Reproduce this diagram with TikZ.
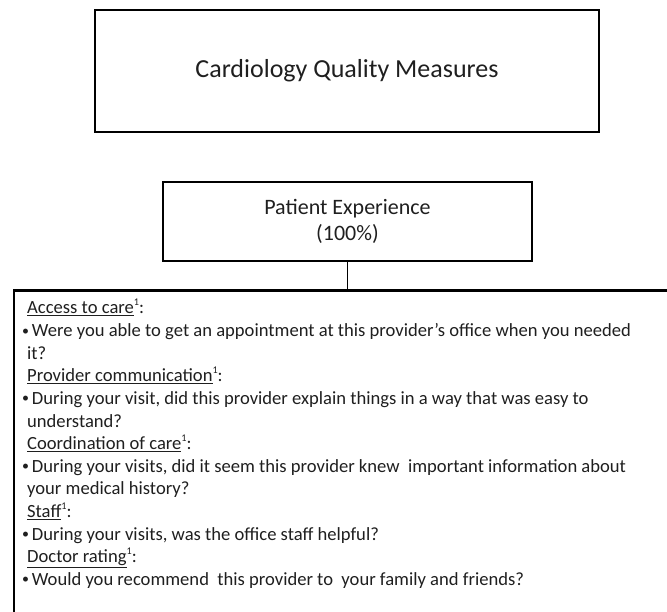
\documentclass[tikz,border=0pt]{standalone}
\usepackage{fontspec}
\setmainfont{Carlito}
\newcommand{\smbul}{\raisebox{0.08em}{\scalebox{0.75}{•}}\hspace{0.15em}}
\newcommand{\supone}{\raisebox{0.45em}{\scalebox{0.55}{1}}}
\begin{document}
\begin{tikzpicture}[x=1pt,y=-1pt,
  box/.style={draw=black, line width=2pt, rectangle, inner sep=0pt, align=center, text=black!88},
  ln/.style={anchor=base west, inner sep=0pt, font=\fontsize{18.6}{22.6}\selectfont, text=black!88},
  hd/.style={ln},
  bl/.style={ln}]
\useasboundingbox (0,0) rectangle (667,612);
\node[box, minimum width=504pt, minimum height=122pt, font=\fontsize{26}{31}\selectfont] (title) at (347,71) {Cardiology Quality Measures};
\node[box, minimum width=369pt, minimum height=79pt, font=\fontsize{22}{26}\selectfont] (pe) at (347.5,221.5) {Patient Experience\\(100\%)};
\node[box, line width=2.5pt, minimum width=720pt, minimum height=400pt, anchor=north west] (tb) at (12.5,289.5) {};
\draw[line width=1pt] (pe.south) -- (pe.south |- tb.north);
\node[hd] (l0) at (27,314.0) {\underline{Access to care}\supone:};
\node[bl] (l1) at (22,336.6) {\smbul Were you able to get an appointment at this provider’s office when you needed};
\node[ln] (l2) at (27,359.2) {it?};
\node[hd] (l3) at (27,381.8) {\underline{Provider communication}\supone:};
\node[bl] (l4) at (22,404.4) {\smbul During your visit, did this provider explain things in a way that was easy to};
\node[ln] (l5) at (27,427.0) {understand?};
\node[hd] (l6) at (27,449.6) {\underline{Coordination of care}\supone:};
\node[bl] (l7) at (22,472.2) {\smbul During your visits, did it seem this provider knew\ \ important information about};
\node[ln] (l8) at (27,494.8) {your medical history?};
\node[hd] (l9) at (27,517.4) {\underline{Staff}\supone:};
\node[bl] (l10) at (22,540.0) {\smbul During your visits, was the office staff helpful?};
\node[hd] (l11) at (27,562.6) {\underline{Doctor rating}\supone:};
\node[bl] (l12) at (22,585.2) {\smbul Would you recommend\ \ this provider to\ \ your family and friends?};
\end{tikzpicture}
\end{document}
